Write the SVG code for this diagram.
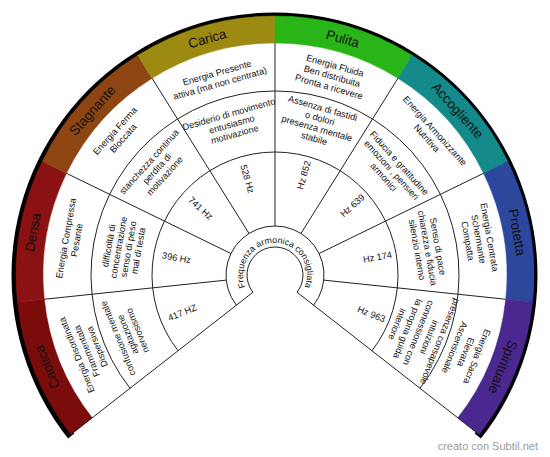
<svg xmlns="http://www.w3.org/2000/svg" width="550" height="457" viewBox="0 0 550 457">
<style>
text{font-family:"Liberation Sans",Arial,sans-serif;fill:#111;text-anchor:middle}
.hd{font-size:13.5px}
.t{font-size:9.2px}
.fq{font-size:9.2px}
.ln{fill:none;stroke:#222;stroke-width:1}
.wm{font-size:11px;fill:#9a9a9a;text-anchor:end}
</style>
<defs>
<path id="fpath" d="M 249.78 294.70 A 32 32 0 1 1 300.22 294.70"/>
</defs>
<rect width="550" height="457" fill="#fff"/>
<path id="border" d="M 68.1 438.5 A 263 263 0 1 1 480.9 438.5 L 474.62 433.52 A 255 255 0 1 0 74.38 433.52 Z" fill="#000"/>
<g id="caotica">
<path d="M 70.91 434.46 A 259 259 0 0 1 17.42 302.07 L 44.27 299.25 A 232 232 0 0 0 92.18 417.83 Z" fill="#7a0c0c" stroke="#7a0c0c" stroke-width="0.5"/>
<g transform="rotate(-112 275 275)">
<text class="hd" x="275" y="33.8">Caotica</text>
<text class="t" x="275" y="64.3">Energia Disordinata</text>
<text class="t" x="275" y="75.3">Frammentata</text>
<text class="t" x="275" y="86.3">Dispersiva</text>
<text class="t" x="275" y="108.8">confusione mentale</text>
<text class="t" x="275" y="119.3">agitazione</text>
<text class="t" x="275" y="129.8">nervosismo</text>
<text class="fq" x="275" y="178.3" transform="rotate(90 275 175)">417 HZ</text>
</g>
</g>
<g id="densa">
<path d="M 17.42 302.07 A 259 259 0 0 1 42.21 161.46 L 66.48 173.30 A 232 232 0 0 0 44.27 299.25 Z" fill="#8a1212" stroke="#8a1212" stroke-width="0.5"/>
<g transform="rotate(-80 275 275)">
<text class="hd" x="275" y="33.8">Densa</text>
<text class="t" x="275" y="65.8">Energia Compressa</text>
<text class="t" x="275" y="76.8">Pesante</text>
<text class="t" x="275" y="109.3">difficoltà di</text>
<text class="t" x="275" y="119.3">concentrazione</text>
<text class="t" x="275" y="129.3">senso di peso</text>
<text class="t" x="275" y="139.3">mal di testa</text>
<text class="fq" x="275" y="178.3" transform="rotate(90 275 175)">396 Hz</text>
</g>
</g>
<g id="stagnante">
<path d="M 42.21 161.46 A 259 259 0 0 1 137.75 55.35 L 152.06 78.25 A 232 232 0 0 0 66.48 173.30 Z" fill="#8e4512" stroke="#8e4512" stroke-width="0.5"/>
<g transform="rotate(-48 275 275)">
<text class="hd" x="275" y="33.8">Stagnante</text>
<text class="t" x="275" y="62.8">Energia Ferma</text>
<text class="t" x="275" y="73.8">Bloccata</text>
<text class="t" x="275" y="108.8">stanchezza continua</text>
<text class="t" x="275" y="119.3">perdita di</text>
<text class="t" x="275" y="129.8">motivazione</text>
<text class="fq" x="275" y="178.3" transform="rotate(90 275 175)">741 Hz</text>
</g>
</g>
<g id="carica">
<path d="M 137.75 55.35 A 259 259 0 0 1 275 16 L 275 43 A 232 232 0 0 0 152.06 78.25 Z" fill="#9c8a13" stroke="#9c8a13" stroke-width="0.5"/>
<g transform="rotate(-16 275 275)">
<text class="hd" x="275" y="33.8">Carica</text>
<text class="t" x="275" y="67.8">Energia Presente</text>
<text class="t" x="275" y="78.8">attiva (ma non centrata)</text>
<text class="t" x="275" y="110.8">Desiderio di movimento</text>
<text class="t" x="275" y="121.3">entusiasmo</text>
<text class="t" x="275" y="131.8">motivazione</text>
<text class="fq" x="275" y="178.3" transform="rotate(90 275 175)">528 Hz</text>
</g>
</g>
<g id="pulita">
<path d="M 275 16 A 259 259 0 0 1 412.25 55.35 L 397.94 78.25 A 232 232 0 0 0 275 43 Z" fill="#29b418" stroke="#29b418" stroke-width="0.5"/>
<g transform="rotate(16 275 275)">
<text class="hd" x="275" y="33.8">Pulita</text>
<text class="t" x="275" y="60.3">Energia Fluida</text>
<text class="t" x="275" y="71.3">Ben distribuita</text>
<text class="t" x="275" y="82.3">Pronta a ricevere</text>
<text class="t" x="275" y="104.6">Assenza di fastidi</text>
<text class="t" x="275" y="115.1">o dolori</text>
<text class="t" x="275" y="125.6">presenza mentale</text>
<text class="t" x="275" y="136.1">stabile</text>
<text class="fq" x="275" y="174.3" transform="rotate(-90 275 171)">Hz 852</text>
</g>
</g>
<g id="accogliente">
<path d="M 412.25 55.35 A 259 259 0 0 1 507.79 161.46 L 483.52 173.30 A 232 232 0 0 0 397.94 78.25 Z" fill="#148a8a" stroke="#148a8a" stroke-width="0.5"/>
<g transform="rotate(48 275 275)">
<text class="hd" x="275" y="33.8">Accogliente</text>
<text class="t" x="275" y="62.8">Energia Armonizzante</text>
<text class="t" x="275" y="73.8">Nutritiva</text>
<text class="t" x="275" y="110.8">Fiducia e gratitudine</text>
<text class="t" x="275" y="121.3">emozioni , pensieri</text>
<text class="t" x="275" y="131.8">armonici</text>
<text class="fq" x="275" y="174.3" transform="rotate(-90 275 171)">Hz 639</text>
</g>
</g>
<g id="protetta">
<path d="M 507.79 161.46 A 259 259 0 0 1 532.58 302.07 L 505.73 299.25 A 232 232 0 0 0 483.52 173.30 Z" fill="#2c479c" stroke="#2c479c" stroke-width="0.5"/>
<g transform="rotate(80 275 275)">
<text class="hd" x="275" y="33.8">Protetta</text>
<text class="t" x="275" y="60.3">Energia Centrata</text>
<text class="t" x="275" y="71.3">Schermante</text>
<text class="t" x="275" y="82.3">Compatta</text>
<text class="t" x="275" y="112.8">Senso di pace</text>
<text class="t" x="275" y="123.3">chiarezza e fiducia</text>
<text class="t" x="275" y="133.8">silenzio interno</text>
<text class="fq" x="275" y="174.3" transform="rotate(-90 275 171)">Hz 174</text>
</g>
</g>
<g id="spirituale">
<path d="M 532.58 302.07 A 259 259 0 0 1 479.09 434.46 L 457.82 417.83 A 232 232 0 0 0 505.73 299.25 Z" fill="#4a2890" stroke="#4a2890" stroke-width="0.5"/>
<g transform="rotate(112 275 275)">
<text class="hd" x="275" y="33.8">Spirituale</text>
<text class="t" x="275" y="60.3">Energia Sacra</text>
<text class="t" x="275" y="72.3">Elevata</text>
<text class="t" x="275" y="84.3">Ascensionale</text>
<text class="t" x="275" y="100.3">presenza consapevole</text>
<text class="t" x="275" y="111.8">intuizioni</text>
<text class="t" x="275" y="123.3">connessione con</text>
<text class="t" x="275" y="134.8">la propria guida</text>
<text class="t" x="275" y="146.3">interiore</text>
<text class="fq" x="275" y="174.3" transform="rotate(-90 275 171)">Hz 963</text>
</g>
</g>
<g id="connectors" class="ln">
<path d="M 252.94 292.24 L 70.91 434.46"/>
<path d="M 297.06 292.24 L 479.09 434.46"/>
<path d="M 226.27 280.12 L 44.27 299.25"/>
<path d="M 230.96 253.52 L 66.48 173.30"/>
<path d="M 249.03 233.45 L 152.06 78.25"/>
<path d="M 275 226 L 275 43"/>
<path d="M 300.97 233.45 L 397.94 78.25"/>
<path d="M 319.04 253.52 L 483.52 173.30"/>
<path d="M 323.73 280.12 L 505.73 299.25"/>
<path d="M 130.01 388.28 A 184 184 0 1 1 419.99 388.28"/>
<path d="M 178.07 350.73 A 123 123 0 1 1 371.93 350.73"/>
<path d="M 236.39 305.17 A 49 49 0 1 1 313.61 305.17"/>
<path d="M 252.94 292.24 A 28 28 0 1 1 297.06 292.24"/>
</g>
<g id="center">
<text style="font-size:8.8px"><textPath href="#fpath" startOffset="50%">Frequenza armonica consigliata</textPath></text>
</g>
<text class="wm" x="538" y="450">creato con Subtil.net</text>
</svg>
